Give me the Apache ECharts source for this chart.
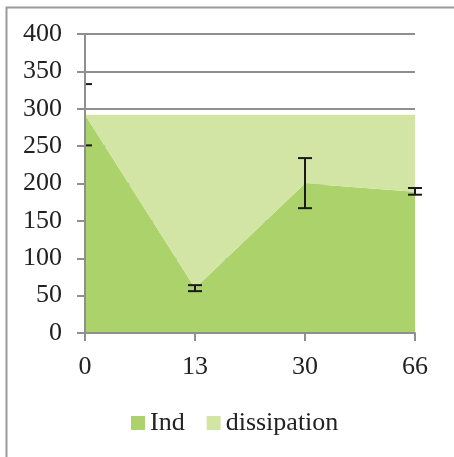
<!DOCTYPE html>
<html>
<head>
<meta charset="utf-8">
<script src="https://cdn.jsdelivr.net/npm/echarts@6/dist/echarts.min.js"></script>
<style>
html,body{margin:0;padding:0;background:#fff;}
#c{width:454px;height:457px;}
</style>
</head>
<body>
<div id="c"></div>
<script>
const categories = ['0', '13', '30', '66'];
const indValues = [292, 60, 200, 189];
const dissipationValues = [0, 232, 92, 103];
const indErrLow = [251, 56, 167, 185];
const indErrHigh = [333, 64, 234, 194];
const yTicks = [0, 50, 100, 150, 200, 250, 300, 350, 400];

const FONT = '"Liberation Serif", "Times New Roman", serif';
const GRAY = '#8f8f8f';
const FS = 26;

const errData = categories.map((c, i) => [i, indErrLow[i], indErrHigh[i]]);

const chart = echarts.init(document.getElementById('c'), null, {renderer: 'canvas'});
chart.setOption({
  animation: false,
  backgroundColor: '#fff',
  graphic: [{
    type: 'rect', left: 4, top: 5, z: 100,
    shape: {width: 520, height: 520},
    style: {fill: 'none', stroke: '#9a9a9a', lineWidth: 2}
  }],
  grid: {left: 85, right: 39, top: 34, bottom: 124},
  legend: {
    left: 131, top: 410, padding: 0,
    icon: 'rect', itemWidth: 14, itemHeight: 14, itemGap: 22,
    textStyle: {fontFamily: FONT, fontSize: FS, color: '#222'},
    data: ['Ind', 'dissipation']
  },
  xAxis: {
    type: 'category', data: categories, boundaryGap: false, z: 10,
    axisLine: {lineStyle: {color: GRAY, width: 2}},
    axisTick: {alignWithLabel: true, length: 8, lineStyle: {color: GRAY, width: 2}},
    axisLabel: {fontFamily: FONT, fontSize: FS, color: '#222', margin: 21},
    splitLine: {show: false}
  },
  yAxis: [{
    type: 'value', min: yTicks[0], max: yTicks[yTicks.length - 1], interval: 50,
    axisLine: {show: true, lineStyle: {color: GRAY, width: 2}},
    axisTick: {show: true, length: 8, lineStyle: {color: GRAY, width: 2}},
    axisLabel: {fontFamily: FONT, fontSize: FS, color: '#222', margin: 23},
    splitLine: {show: true, lineStyle: {color: GRAY, width: 2}}
  }, {
    type: 'value', min: yTicks[0], max: yTicks[yTicks.length - 1], interval: 50,
    position: 'left', z: 10,
    axisLine: {show: true, lineStyle: {color: GRAY, width: 2}},
    axisTick: {show: false}, axisLabel: {show: false}, splitLine: {show: false}
  }],
  series: [{
    name: 'Ind', type: 'line', stack: 'total', data: indValues,
    symbol: 'none', lineStyle: {width: 0}, itemStyle: {color: '#acd26b'},
    areaStyle: {color: '#acd26b', opacity: 1}
  }, {
    name: 'dissipation', type: 'line', stack: 'total', data: dissipationValues,
    symbol: 'none', lineStyle: {width: 0}, itemStyle: {color: '#d3e5a5'},
    areaStyle: {color: '#d3e5a5', opacity: 1}
  }, {
    name: 'err', type: 'custom', z: 5, data: errData,
    renderItem: function (params, api) {
      const i = api.value(0);
      const lo = api.coord([i, api.value(1)]);
      const hi = api.coord([i, api.value(2)]);
      const x0 = api.coord([0, 0])[0];
      const w = 7;
      const l = Math.max(lo[0] - w, x0);
      const r = lo[0] + w;
      const st = {stroke: '#1a1a1a', lineWidth: 2};
      return {type: 'group', children: [
        {type: 'line', shape: {x1: lo[0], y1: lo[1], x2: hi[0], y2: hi[1]}, style: st},
        {type: 'line', shape: {x1: l, y1: lo[1], x2: r, y2: lo[1]}, style: st},
        {type: 'line', shape: {x1: l, y1: hi[1], x2: r, y2: hi[1]}, style: st}
      ]};
    }
  }]
});
</script>
</body>
</html>
